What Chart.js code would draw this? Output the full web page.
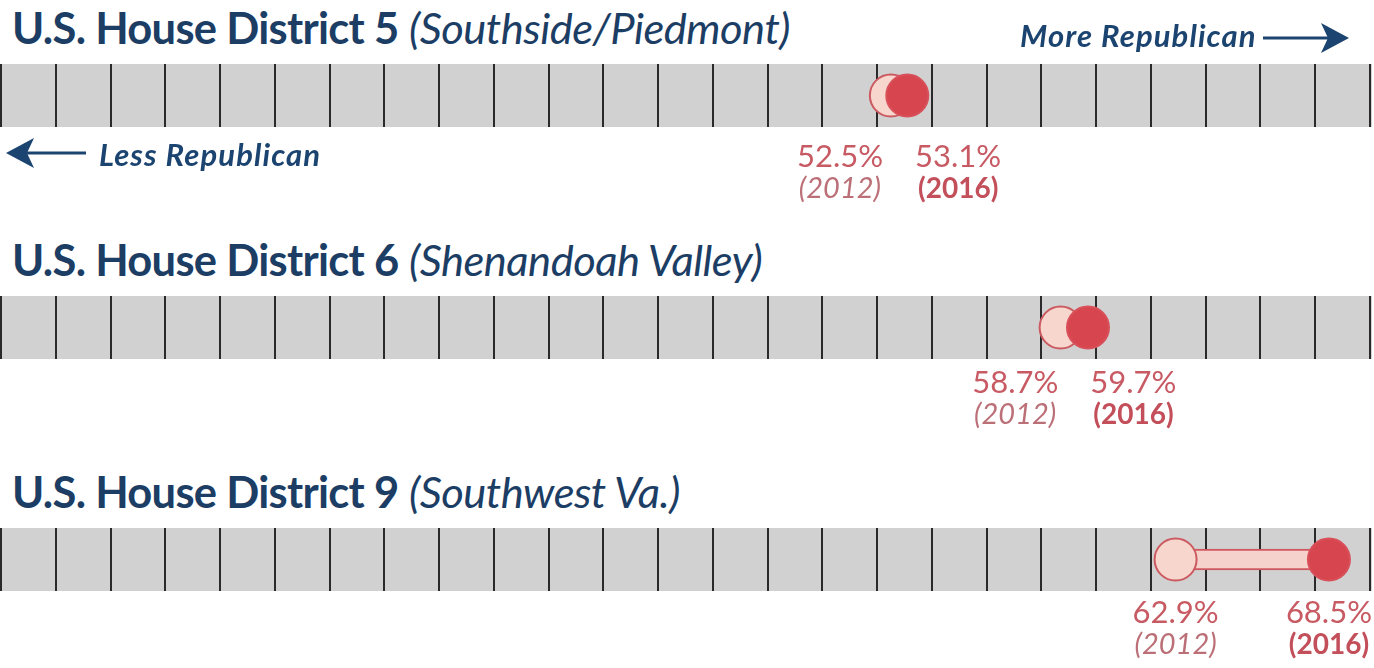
<!DOCTYPE html>
<html>
<head>
<meta charset="utf-8">
<script src="https://cdn.jsdelivr.net/npm/chart.js@4.4.1/dist/chart.umd.min.js"></script>
<style>
  html, body { margin: 0; padding: 0; background: #ffffff; }
  #wrap { position: relative; width: 1374px; height: 668px; overflow: hidden; font-family: Lato, "Open Sans", sans-serif; color: #1c3d64; }
  .title { position: absolute; left: 12px; font-size: 43.5px; line-height: 42px; white-space: nowrap; letter-spacing: -0.7px; }
  .title b { font-weight: 700; }
  .title i { font-weight: 400; font-style: italic; letter-spacing: -0.5px; }
  .hint { position: absolute; z-index: 2; font-size: 31px; line-height: 31px; font-weight: 700; font-style: italic; white-space: nowrap; letter-spacing: 1.1px; color: #1c4470; }
  canvas { position: absolute; left: 0; z-index: 1; }
  svg { position: absolute; z-index: 2; }
</style>
</head>
<body>
<div id="wrap">
  <div class="hint" style="left:1020px; top:20px;">More Republican</div>
  <svg style="left:1255px; top:18px;" width="100" height="40">
    <line x1="8" y1="20" x2="85" y2="20" stroke="#1c4470" stroke-width="3"/>
    <polygon points="94,20 66,5 73,20 66,35" fill="#1c4470"/>
  </svg>
  <div class="hint" style="left:99px; top:139px;">Less Republican</div>
  <svg style="left:0px; top:133px;" width="100" height="40">
    <line x1="14" y1="20" x2="86" y2="20" stroke="#1c4470" stroke-width="3"/>
    <polygon points="6,20 34,5 27,20 34,35" fill="#1c4470"/>
  </svg>
</div>
<script>
const districts = ["U.S. House District 5", "U.S. House District 6", "U.S. House District 9"];
const regions = ["(Southside/Piedmont)", "(Shenandoah Valley)", "(Southwest Va.)"];
const years = ["2012", "2016"];
const share2012 = [52.5, 58.7, 62.9];
const share2016 = [53.1, 59.7, 68.5];
const axisMin = 20;
const axisMax = 70;
const axisStep = 2;

const wrap = document.getElementById("wrap");

// gray strip behind the grid lines
const stripPlugin = {
    id: "strip",
    beforeDraw(chart){
        const a = chart.chartArea;
        const ctx = chart.ctx;
        ctx.save();
        ctx.fillStyle = "#d1d1d1";
        ctx.fillRect(a.left - 1, a.top, a.right - a.left + 3, a.bottom - a.top);
        ctx.restore();
    }
};

// percent + year labels under the circles
const labelPlugin = {
    id: "yearLabels",
    afterDatasetsDraw(chart, args, opts){
        const ctx = chart.ctx;
        const p1 = chart.getDatasetMeta(1).data[0];
        const p2 = chart.getDatasetMeta(2).data[0];
        const v1 = chart.data.datasets[1].data[0].x;
        const v2 = chart.data.datasets[2].data[0].x;
        const base = chart.chartArea.bottom + opts.shift;

        ctx.save();
        ctx.font = "400 31px Lato";
        const t1 = v1.toFixed(1) + "%";
        const t2 = v2.toFixed(1) + "%";
        const w = Math.max(ctx.measureText(t1).width, ctx.measureText(t2).width);

        let x1 = p1.x, x2 = p2.x, a1 = "center", a2 = "center";
        if (x2 - x1 < w + 32) {
            const mid = (x1 + x2) / 2;
            x1 = mid - 16; a1 = "right";
            x2 = mid + 16; a2 = "left";
        }

        ctx.textBaseline = "alphabetic";
        ctx.fillStyle = "#c85a64";
        ctx.textAlign = a1;
        ctx.fillText(t1, x1, base + 34);
        ctx.textAlign = a2;
        ctx.fillText(t2, x2, base + 34);

        ctx.font = "italic 400 29px Lato";
        ctx.fillStyle = "#bb7078";
        ctx.textAlign = a1;
        const dx1 = a1 === "right" ? -2 : 0;
        ctx.fillText("(" + years[0] + ")", x1 + dx1, base + 65);
        ctx.font = "700 28px Lato";
        ctx.fillStyle = "#c24f5a";
        ctx.textAlign = a2;
        const dx2 = a2 === "left" ? 3 : 0;
        ctx.fillText("(" + years[1] + ")", x2 + dx2, base + 65);
        ctx.restore();
    }
};

function createDistrictChart(i, top, shift){

    const title = document.createElement("div");
    title.className = "title";
    title.style.top = (top + 6) + "px";
    title.innerHTML = "<b>" + districts[i] + "</b> <i>" + regions[i] + "</i>";
    wrap.appendChild(title);

    const canvas = document.createElement("canvas");
    canvas.width = 1374;
    canvas.height = 160;
    canvas.style.top = (top + 50) + "px";
    wrap.appendChild(canvas);

    const name = districts[i];

    return new Chart(canvas.getContext("2d"), {

        type: "bar",

        data: {

            labels: [name],

            datasets: [
                {
                    type: "bar",
                    data: [[share2012[i], share2016[i]]],
                    backgroundColor: "#f5d2cb",
                    borderColor: "#cf5860",
                    borderWidth: 2,
                    borderSkipped: false,
                    barThickness: 21,
                    order: 3
                },
                {
                    type: "line",
                    showLine: false,
                    data: [{x: share2012[i], y: name}],
                    pointRadius: 21,
                    pointBackgroundColor: "#f7d6ce",
                    pointBorderColor: "#cc5a61",
                    pointBorderWidth: 2,
                    order: 2
                },
                {
                    type: "line",
                    showLine: false,
                    data: [{x: share2016[i], y: name}],
                    pointRadius: 21,
                    pointBackgroundColor: "#d7464f",
                    pointBorderColor: "#d8505a",
                    pointBorderWidth: 2,
                    order: 1
                }
            ]

        },

        options: {

            indexAxis: "y",

            responsive: false,

            animation: false,

            events: [],

            layout: {
                autoPadding: false,
                padding: {top: 14, bottom: 83, left: 1, right: 4}
            },

            plugins: {
                legend: {display: false},
                tooltip: {enabled: false},
                yearLabels: {shift: shift}
            },

            scales: {

                x: {
                    type: "linear",
                    min: axisMin,
                    max: axisMax,
                    ticks: {display: false, stepSize: axisStep},
                    grid: {color: "#2a2a2a", lineWidth: 2, drawTicks: false},
                    border: {display: false}
                },

                y: {
                    type: "category",
                    display: false
                }

            }

        },

        plugins: [stripPlugin, labelPlugin]

    });

}

createDistrictChart(0, 0, 6);
createDistrictChart(1, 232, 0);
createDistrictChart(2, 464, -2);
</script>
</body>
</html>
